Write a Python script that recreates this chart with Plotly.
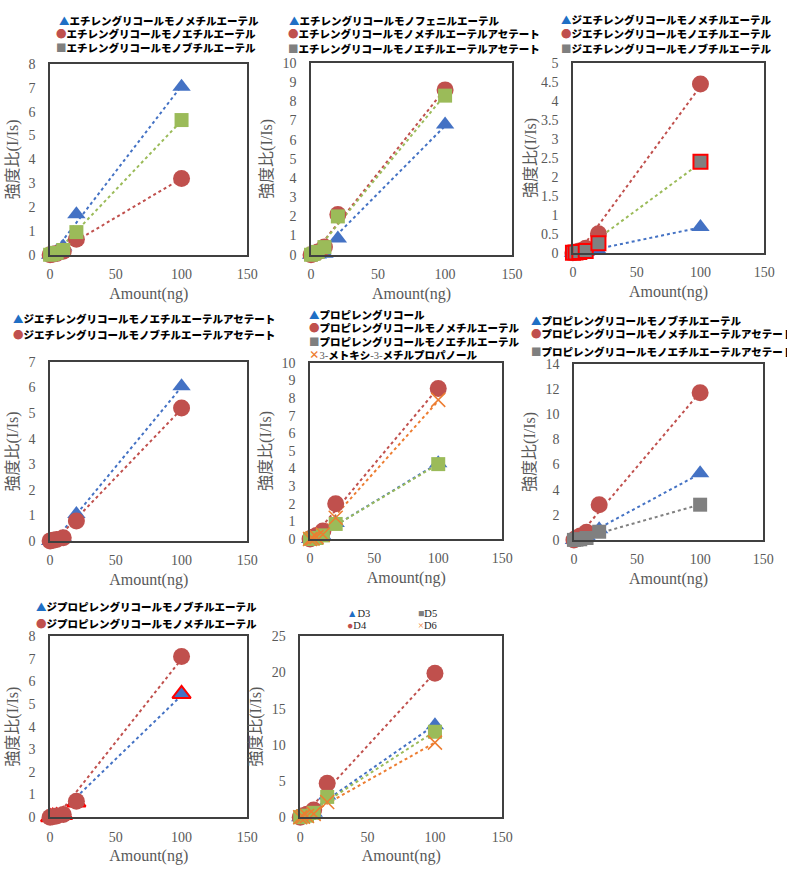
import numpy as np
import plotly.graph_objects as go

W, H = 787, 893

# ---------------- data ----------------
amount = [0, 2, 5, 10, 20, 100]

p1_names = ["エチレングリコールモノメチルエーテル", "エチレングリコールモノエチルエーテル", "エチレングリコールモノブチルエーテル"]
p1_me = [0, 0.05, 0.15, 0.35, 1.7, 7.05]
p1_et = [0, 0.02, 0.05, 0.15, 0.65, 3.2]
p1_bu = [0, 0.03, 0.08, 0.2, 0.95, 5.65]

p2_names = ["エチレングリコールモノフェニルエーテル", "エチレングリコールモノメチルエーテルアセテート", "エチレングリコールモノエチルエーテルアセテート"]
p2_ph = [0, 0.0, 0.02, 0.05, 0.85, 6.8]
p2_meac = [0, 0.05, 0.15, 0.4, 2.1, 8.6]
p2_etac = [0, 0.05, 0.15, 0.4, 2.0, 8.3]

p3_names = ["ジエチレングリコールモノメチルエーテル", "ジエチレングリコールモノエチルエーテル", "ジエチレングリコールモノブチルエーテル"]
p3_me = [0, 0.0, 0.01, 0.02, 0.05, 0.68]
p3_et = [0, 0.02, 0.05, 0.12, 0.5, 4.45]
p3_bu = [0, 0.01, 0.02, 0.05, 0.25, 2.4]

p4_names = ["ジエチレングリコールモノエチルエーテルアセテート", "ジエチレングリコールモノブチルエーテルアセテート"]
p4_etac = [0, 0.02, 0.05, 0.12, 1.05, 6.05]
p4_buac = [0, 0.02, 0.05, 0.12, 0.78, 5.2]

p5_names = ["プロピレングリコール", "プロピレングリコールモノメチルエーテル", "プロピレングリコールモノエチルエーテル", "3-メトキシ-3-メチルプロパノール"]
p5_pg = [0, 0.02, 0.05, 0.15, 0.9, 4.3]
p5_me = [0, 0.1, 0.2, 0.45, 2.0, 8.55]
p5_et = [0, 0.02, 0.05, 0.2, 0.85, 4.25]
p5_mmb = [0, 0.03, 0.1, 0.25, 1.2, 7.9]

p6_names = ["プロピレングリコールモノブチルエーテル", "プロピレングリコールモノメチルエーテルアセテート", "プロピレングリコールモノエチルエーテルアセテート"]
p6_bu = [0, 0.05, 0.1, 0.3, 0.85, 5.3]
p6_meac = [0, 0.15, 0.3, 0.6, 2.8, 11.7]
p6_etac = [0, 0.02, 0.05, 0.15, 0.65, 2.8]

p7_names = ["ジプロピレングリコールモノブチルエーテル", "ジプロピレングリコールモノメチルエーテル"]
p7_bu = [0, 0.02, 0.05, 0.1, 0.65, 5.45]
p7_me = [0, 0.02, 0.05, 0.12, 0.7, 7.1]

p8_names = ["D3", "D4", "D5", "D6"]
p8_d3 = [0, 0.1, 0.2, 0.6, 3.0, 12.7]
p8_d4 = [0, 0.2, 0.4, 1.0, 4.7, 19.9]
p8_d5 = [0, 0.1, 0.2, 0.6, 2.8, 11.8]
p8_d6 = [0, 0.05, 0.15, 0.45, 2.1, 10.3]

x_ticks = [0, 50, 100, 150]
x_title = "Amount(ng)"
y_title = "強度比(I/Is)"

# ---------------- styles ----------------
STY = {
    "tri": dict(symbol="triangle-up", color="#4472C4", size=16, line=dict(width=0), lc="#4472C4"),
    "trir": dict(symbol="triangle-up", color="#4472C4", size=16, line=dict(width=2, color="#FF0000"), lc="#4472C4"),
    "cir": dict(symbol="circle", color="#C0504D", size=17, line=dict(width=0), lc="#C0504D"),
    "sqg": dict(symbol="square", color="#9BBB59", size=14, line=dict(width=0), lc="#9BBB59"),
    "sqgray": dict(symbol="square", color="#808080", size=14, line=dict(width=0), lc="#808080"),
    "sqred": dict(symbol="square", color="#808080", size=14, line=dict(width=2, color="#FF0000"), lc="#9BBB59"),
    "x": dict(symbol="x-thin-open", color="#ED7D31", size=14, line=dict(width=1.5, color="#ED7D31"), lc="#ED7D31"),
}
LEG = {"tri": ("▲", "#1F6FC5"), "trir": ("▲", "#1F6FC5"), "cir": ("●", "#C0504D"),
       "sqg": ("■", "#7F7F7F"), "sqgray": ("■", "#7F7F7F"), "sqred": ("■", "#7F7F7F"), "x": ("×", "#ED7D31")}

panels = [
    dict(frame=(47, 248, 58, 252), ymax=8, dtick=1,
         series=[(p1_me, "tri"), (p1_et, "cir"), (p1_bu, "sqg")], names=p1_names,
         leg=[(54, 14), (51, 27), (51, 41)]),
    dict(frame=(313, 518, 57, 252), ymax=10, dtick=1,
         series=[(p2_ph, "tri"), (p2_meac, "cir"), (p2_etac, "sqg")], names=p2_names,
         leg=[(288, 14), (287, 27), (287, 42)]),
    dict(frame=(580, 775, 57, 250), ymax=5, dtick=0.5,
         series=[(p3_me, "tri"), (p3_et, "cir"), (p3_bu, "sqred")], names=p3_names,
         leg=[(566, 13), (566, 27), (566, 42)], ystand=0),
    dict(frame=(47, 248, 361, 543), ymax=7, dtick=1,
         series=[(p4_etac, "tri"), (p4_buac, "cir")], names=p4_names,
         leg=[(7, 317), (7, 333)]),
    dict(frame=(312, 508, 362, 541), ymax=10, dtick=1,
         series=[(p5_pg, "tri"), (p5_me, "cir"), (p5_et, "sqg"), (p5_mmb, "x")], names=p5_names,
         leg=[(309, 313), (309, 326), (309, 340), (309, 353)]),
    dict(frame=(581, 774, 363, 542), ymax=14, dtick=2,
         series=[(p6_bu, "tri"), (p6_meac, "cir"), (p6_etac, "sqgray")], names=p6_names,
         leg=[(535, 319), (535, 332), (535, 350)]),
    dict(frame=(47, 248, 640, 824), ymax=8, dtick=1,
         series=[(p7_bu, "trir"), (p7_me, "cir")], names=p7_names,
         leg=[(31, 610), (31, 627)]),
    dict(frame=(302, 508, 640, 824), ymax=25, dtick=5,
         series=[(p8_d3, "tri"), (p8_d4, "cir"), (p8_d5, "sqg"), (p8_d6, "x")], names=p8_names,
         leg=[(348, 617), (348, 629), (420, 617), (420, 629)], serif_leg=True),
]

SERIF = "Liberation Serif, Times New Roman, DejaVu Serif, serif"
TICK_FONT = dict(family=SERIF, size=14, color="#595959")
TITLE_FONT = dict(family=SERIF + ", Noto Sans CJK JP", size=16, color="#595959")
LEG_FONT = dict(family="Noto Sans CJK JP", size=10.5, color="#000000", weight=900)
AXLINE = "#404040"

fig = go.Figure()
annotations = []
layout = dict(width=W, height=H, margin=dict(l=0, r=0, t=0, b=0),
              paper_bgcolor="white", plot_bgcolor="white", showlegend=False)

xs = np.array(amount, dtype=float)
for i, p in enumerate(panels, start=1):
    xa = "x" if i == 1 else f"x{i}"
    ya = "y" if i == 1 else f"y{i}"
    xl, xr, yt, yb = p["frame"]
    layout["xaxis" if i == 1 else f"xaxis{i}"] = dict(
        domain=[xl / W, xr / W], anchor=ya, range=[0, 150], tickvals=x_ticks,
        showline=True, mirror=True, linecolor=AXLINE, linewidth=1.5, showgrid=False,
        zeroline=False, ticks="", tickfont=TICK_FONT, ticklabelstandoff=6,
        title=dict(text=x_title, font=TITLE_FONT, standoff=6), fixedrange=True)
    layout["yaxis" if i == 1 else f"yaxis{i}"] = dict(
        domain=[1 - yb / H, 1 - yt / H], anchor=xa, range=[0, p["ymax"]], dtick=p["dtick"],
        showline=True, mirror=True, linecolor=AXLINE, linewidth=1.5, showgrid=False,
        zeroline=False, ticks="", tickfont=TICK_FONT, ticklabelstandoff=10,
        title=dict(text=y_title, font=TITLE_FONT, standoff=p.get("ystand", 6)), fixedrange=True)

    # trendlines
    for vals, st in p["series"]:
        s = STY[st]
        k, b = np.polyfit(xs, np.array(vals, dtype=float), 1)
        xx = np.array([xs.min(), xs.max()])
        fig.add_trace(go.Scatter(x=xx, y=k * xx + b, mode="lines", xaxis=xa, yaxis=ya,
                                 line=dict(color=s["lc"], width=2, dash="dot"), hoverinfo="skip"))
    # markers
    for (vals, st), nm in zip(p["series"], p["names"]):
        s = STY[st]
        fig.add_trace(go.Scatter(x=amount, y=vals, mode="markers", xaxis=xa, yaxis=ya, name=nm,
                                 cliponaxis=False,
                                 marker=dict(symbol=s["symbol"], color=s["color"], size=s["size"], line=s["line"])))
    # legend text
    for (vals, st), nm, (lx, ly) in zip(p["series"], p["names"], p["leg"]):
        g, c = LEG[st]
        if p.get("serif_leg"):
            txt = f'<span style="color:{c}">{g}</span>{nm}'
            font = dict(family=SERIF + ", Noto Sans CJK JP", size=10.5, color="#262626")
        else:
            sp = f'<span style="font-family:{SERIF};font-weight:normal;color:#595959">'
            body = nm.replace("3-", sp + "3-</span>")
            body = body.replace("シ-", "シ" + sp + "-</span>")
            txt = f'<span style="color:{c}">{g}</span>{body}'
            font = LEG_FONT
        annotations.append(dict(text=txt, x=lx / W, y=1 - ly / H, xref="paper", yref="paper",
                                xanchor="left", yanchor="middle", showarrow=False, font=font))

layout["annotations"] = annotations
fig.update_layout(**layout)
fig.write_html("out.html")
